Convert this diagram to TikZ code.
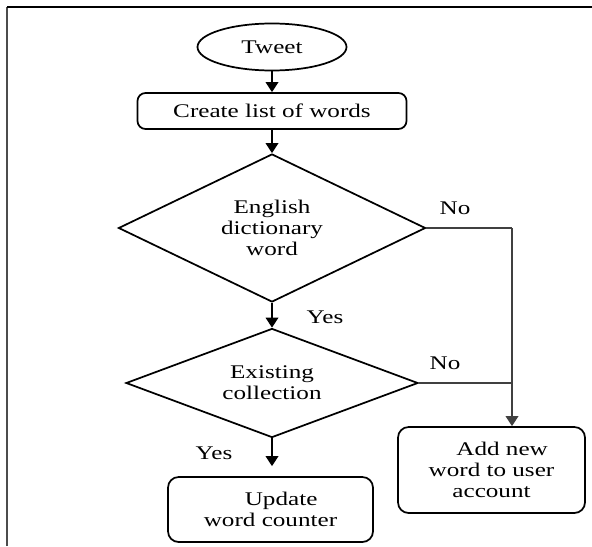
\documentclass[tikz,border=0pt]{standalone}
\usepackage{fontspec}
\setmainfont{Liberation Serif}[FakeStretch=1.3]
\usetikzlibrary{shapes.geometric,arrows.meta}

\begin{document}
\begin{tikzpicture}[x=0.75pt, y=-0.75pt,
  font=\fontsize{14.5}{15.8}\selectfont,
  term/.style={draw, ellipse, line width=1.3pt, inner xsep=16pt, inner ysep=6pt},
  box/.style={draw, rectangle, rounded corners=6pt, line width=1.3pt, align=center, inner sep=0pt},
  decide/.style={draw, diamond, aspect=2, line width=1.3pt, align=center, inner sep=0pt},
  arr/.style={line width=1pt, -{Triangle[width=9.5pt,length=7.5pt]}},
  link/.style={line width=0.8pt, gray!50!black},
  lbl/.style={inner sep=0pt}]
\useasboundingbox (0,0) rectangle (592,546);
% frame
\draw[gray!60!black, line width=1.5pt] (7,546) -- (7,7);
\draw[line width=1.1pt] (7,7) -- (592,7);
%
\node[term, minimum width=111.75pt, minimum height=35.25pt] (tweet) at (272,47) {Tweet};
\node[box, minimum width=201.75pt, minimum height=27pt] (words) at (272,111) {Create list of words};
\node[decide, minimum width=230.25pt, minimum height=111pt] (dict) at (272,228) {English\\dictionary\\word};
\node[decide, minimum width=219pt, minimum height=81.75pt] (coll) at (272,383) {Existing\\collection};
\node[box, rounded corners=8pt, minimum width=153.75pt, minimum height=48.75pt] (count) at (270.5,509.5) {\hspace*{1.1em}Update\\word counter};
\node[box, rounded corners=8pt, minimum width=140.25pt, minimum height=64.5pt] (adduser) at (491.5,470) {\hspace*{1.1em}Add new\\word to user\\account};
%
\draw[arr] (tweet.south) -- (words.north);
\draw[arr] (words.south) -- (dict.north);
\draw[arr] (dict.south) -- (coll.north);
\draw[arr, shorten >=7.5pt] (coll.south) -- (coll.south |- count.north);
%
\coordinate (jn) at (512,228);
\draw[link] (dict.east) -- (jn);
\draw[arr, gray!50!black] (jn) -- (jn |- adduser.north);
\draw[link] (coll.east) -- (coll.east -| jn);
%
\node[lbl] (no1) at (455,208) {No};
\node[lbl] (yes1) at (325,317) {Yes};
\node[lbl] (no2) at (445,363) {No};
\node[lbl] (yes2) at (214,453) {Yes};
\end{tikzpicture}
\end{document}
